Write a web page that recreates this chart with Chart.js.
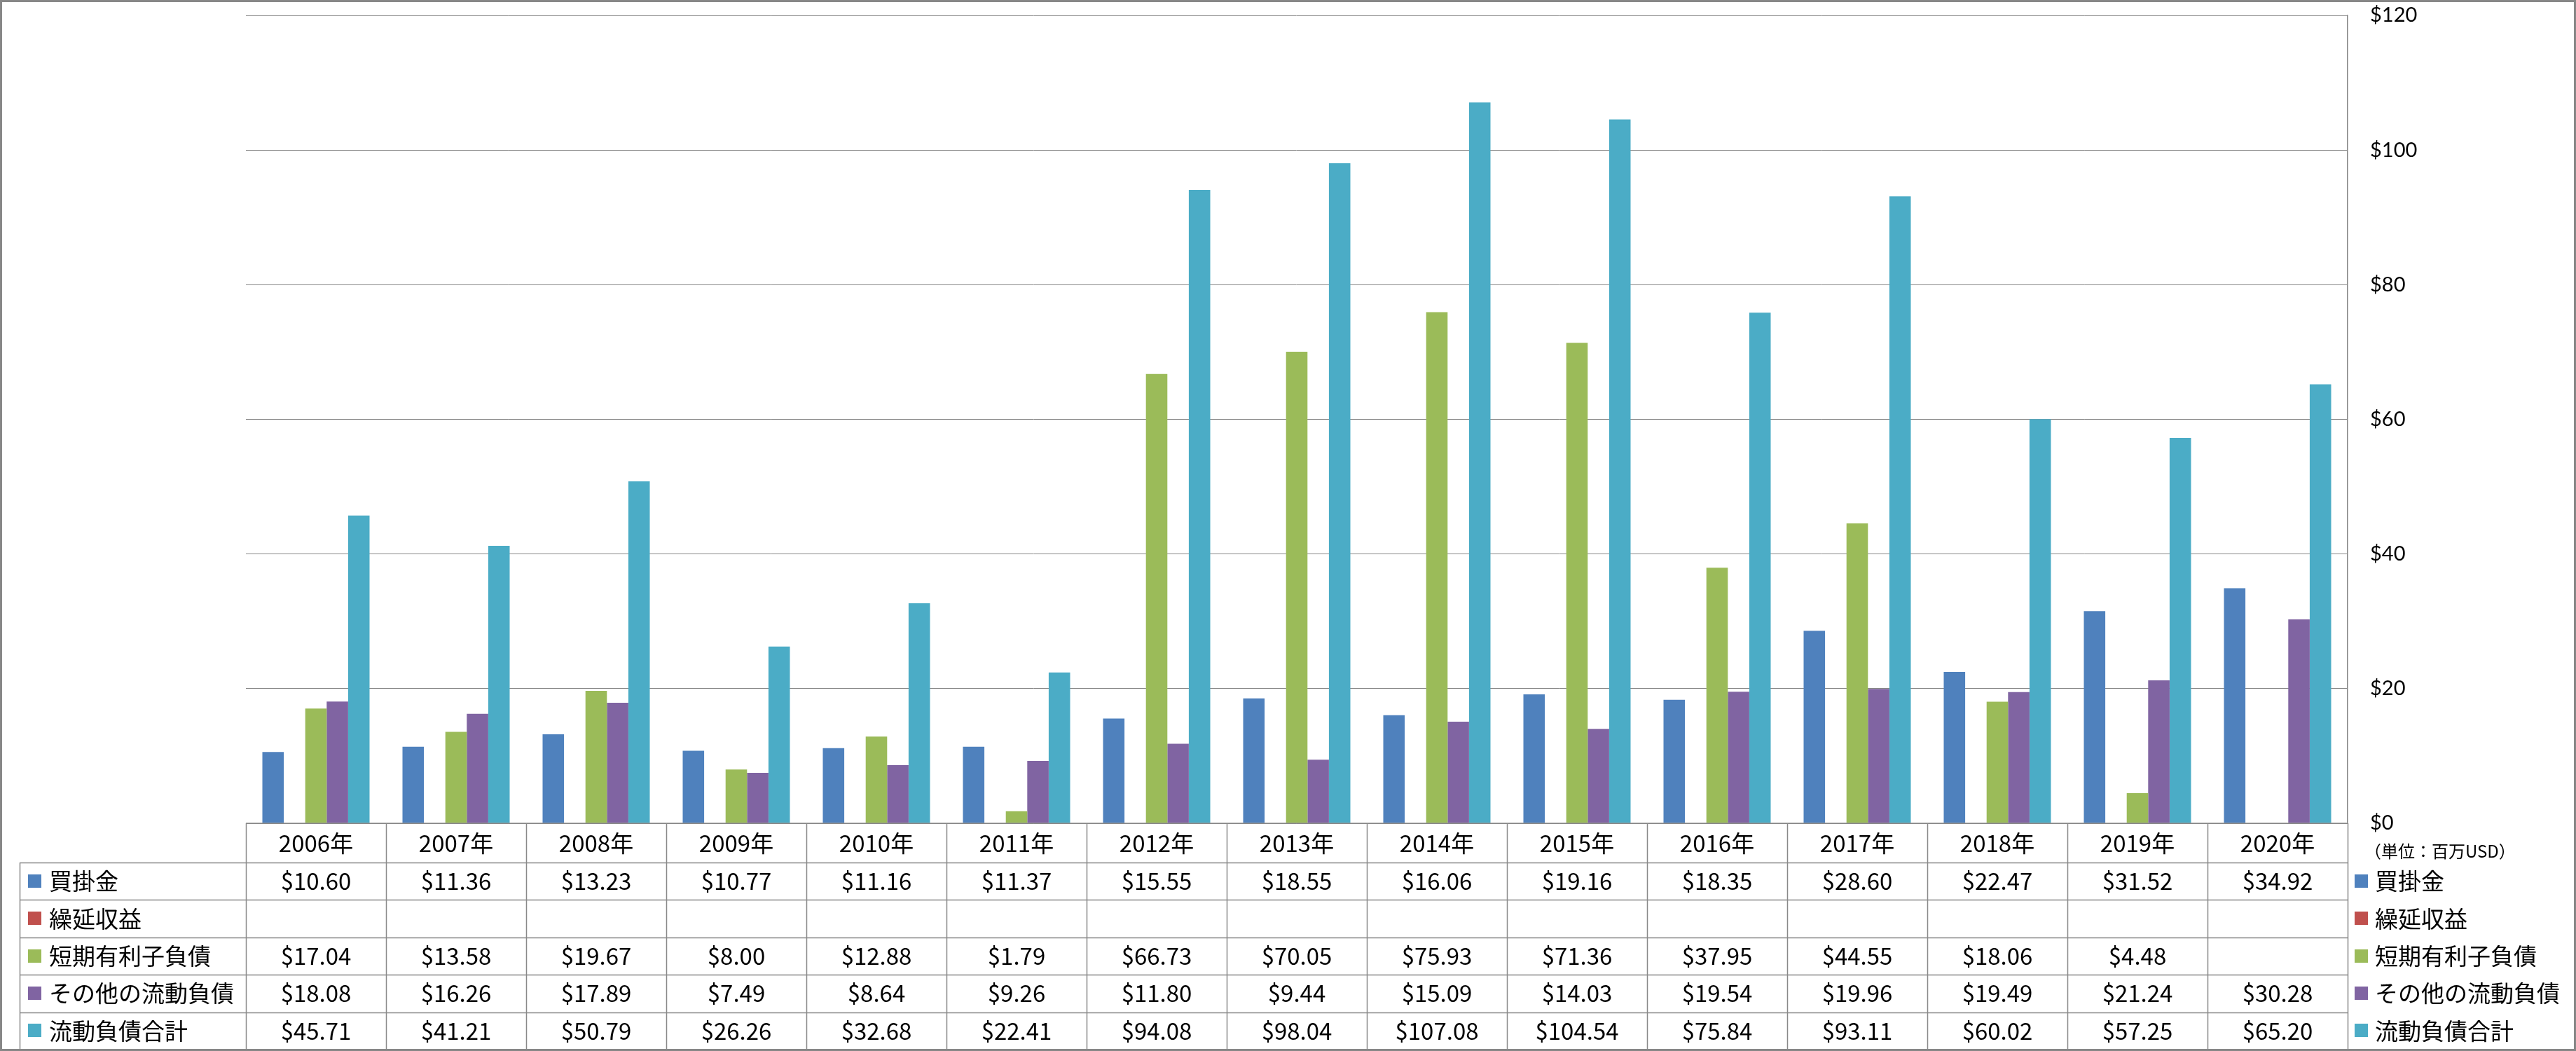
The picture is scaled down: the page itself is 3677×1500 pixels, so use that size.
<!DOCTYPE html>
<html>
<head>
<meta charset="utf-8">
<script src="https://cdn.jsdelivr.net/npm/chart.js@4.4.1/dist/chart.umd.min.js"></script>
<style>
  html, body { margin: 0; padding: 0; background: #fff; }
  canvas { display: block; }
</style>
</head>
<body>
<canvas id="chart" width="3677" height="1500"></canvas>
<script>
// --- data (単位:百万USD) ---
const years = ['2006年', '2007年', '2008年', '2009年', '2010年', '2011年', '2012年', '2013年',
  '2014年', '2015年', '2016年', '2017年', '2018年', '2019年', '2020年'];

const seriesNames = ['買掛金', '繰延収益', '短期有利子負債', 'その他の流動負債', '流動負債合計'];
const seriesColors = ['#4F81BD', '#C0504D', '#9BBB59', '#8064A2', '#4BACC6'];

const accountsPayable = [10.60, 11.36, 13.23, 10.77, 11.16, 11.37, 15.55, 18.55, 16.06, 19.16, 18.35, 28.60, 22.47, 31.52, 34.92];
const deferredRevenue = [null, null, null, null, null, null, null, null, null, null, null, null, null, null, null];
const shortTermDebt = [17.04, 13.58, 19.67, 8.00, 12.88, 1.79, 66.73, 70.05, 75.93, 71.36, 37.95, 44.55, 18.06, 4.48, null];
const otherCurrent = [18.08, 16.26, 17.89, 7.49, 8.64, 9.26, 11.80, 9.44, 15.09, 14.03, 19.54, 19.96, 19.49, 21.24, 30.28];
const totalCurrent = [45.71, 41.21, 50.79, 26.26, 32.68, 22.41, 94.08, 98.04, 107.08, 104.54, 75.84, 93.11, 60.02, 57.25, 65.20];

const yTickValues = [0, 20, 40, 60, 80, 100, 120];
const unitLabel = '（単位：百万USD）';

const seriesData = [accountsPayable, deferredRevenue, shortTermDebt, otherCurrent, totalCurrent];

const LINE = '#898989';
const JP_FONT = '"Noto Sans CJK JP", "Noto Sans", sans-serif';

// データテーブル + 凡例 (Excelのグラフ下の表)
const dataTablePlugin = {
  id: 'dataTable',
  afterDraw(chart) {
    const { ctx, chartArea, scales } = chart;
    const xs = scales.x;
    const colW = xs.getPixelForValue(1) - xs.getPixelForValue(0);
    const top = chartArea.bottom;
    const headerH = 56;
    const rowH = 53.4;
    const tableLeft = 28;
    const bottom = top + headerH + rowH * seriesNames.length;

    ctx.save();
    ctx.strokeStyle = LINE;
    ctx.lineWidth = 1.5;

    // 横線
    ctx.beginPath();
    ctx.moveTo(chartArea.left, top);
    ctx.lineTo(chartArea.right, top);
    for (let r = 0; r <= seriesNames.length; r++) {
      const y = Math.round(top + headerH + rowH * r) + 0.5;
      ctx.moveTo(tableLeft, y);
      ctx.lineTo(chartArea.right, y);
    }
    // 縦線
    for (let i = 0; i <= years.length; i++) {
      const x = Math.round(xs.getPixelForValue(0) - colW / 2 + colW * i) + 0.5;
      ctx.moveTo(x, top);
      ctx.lineTo(x, bottom);
    }
    ctx.moveTo(tableLeft + 0.5, top + headerH);
    ctx.lineTo(tableLeft + 0.5, bottom);
    ctx.stroke();

    ctx.fillStyle = '#000';
    ctx.textBaseline = 'middle';
    ctx.font = '33px ' + JP_FONT;
    ctx.textAlign = 'center';

    // 年ラベル
    years.forEach((yr, i) => {
      ctx.fillText(yr, xs.getPixelForValue(i), top + headerH / 2);
    });

    // 値
    seriesData.forEach((arr, r) => {
      const cy = top + headerH + rowH * r + rowH / 2;
      arr.forEach((v, i) => {
        if (v === null) return;
        ctx.fillText('$' + v.toFixed(2), xs.getPixelForValue(i), cy);
      });
    });

    // 左右の凡例
    ctx.textAlign = 'left';
    seriesNames.forEach((name, r) => {
      const cy = top + headerH + rowH * r + rowH / 2;
      ctx.fillStyle = seriesColors[r];
      ctx.fillRect(40, Math.round(cy - 10), 19, 19);
      ctx.fillRect(chartArea.right + 10, Math.round(cy - 10), 19, 19);
      ctx.fillStyle = '#000';
      ctx.fillText(name, 70, cy);
      ctx.fillText(name, chartArea.right + 39, cy);
    });

    // 単位
    ctx.font = '24px ' + JP_FONT;
    ctx.fillText(unitLabel, chartArea.right + 24, top + 40);

    // 外枠
    ctx.strokeStyle = '#878787';
    ctx.lineWidth = 3;
    ctx.strokeRect(1.5, 1.5, chart.width - 3, chart.height - 3);
    ctx.restore();
  }
};

new Chart(document.getElementById('chart'), {
  type: 'bar',
  data: {
    labels: years,
    datasets: seriesNames.map((name, k) => ({
      label: name,
      data: seriesData[k],
      backgroundColor: seriesColors[k],
      borderWidth: 0,
      categoryPercentage: 0.765,
      barPercentage: 1.0
    }))
  },
  options: {
    responsive: false,
    animation: false,
    devicePixelRatio: 1,
    layout: { padding: { left: 351, top: 22, bottom: 325, right: 0 } },
    plugins: {
      legend: { display: false },
      tooltip: { enabled: false }
    },
    scales: {
      x: { display: false },
      y: {
        position: 'right',
        min: 0,
        max: 120,
        afterFit: (scale) => {
          scale.width = 326;
          // tick padding がグラフ上端を押し下げないように
          scale.paddingTop = 0;
          scale.paddingBottom = 0;
        },
        afterBuildTicks: (scale) => { scale.ticks = yTickValues.map(v => ({ value: v })); },
        grid: { color: '#868686', lineWidth: 1, drawTicks: false },
        border: { display: true, color: '#868686', width: 1.5 },
        ticks: {
          padding: 32,
          color: '#000',
          font: { family: 'Lato, "Open Sans", sans-serif', size: 29 },
          callback: v => '$' + v
        }
      }
    }
  },
  plugins: [dataTablePlugin]
});
</script>
</body>
</html>
